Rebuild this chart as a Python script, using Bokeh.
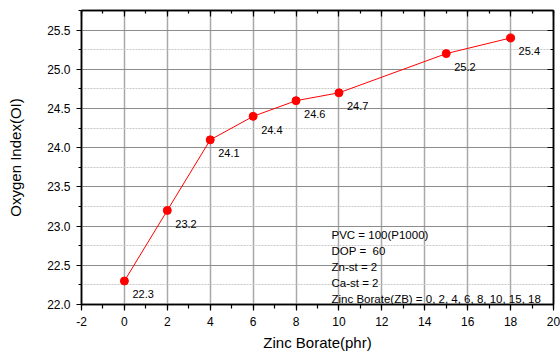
from bokeh.plotting import figure
from bokeh.models import (Range1d, LinearAxis, SingleIntervalTicker, NumeralTickFormatter,
                          CustomJSTickFormatter, ColumnDataSource, Label)
from bokeh.embed import file_html
from bokeh.resources import INLINE
from bokeh.core.properties import value

# ---- data ----
zinc_borate = [0, 2, 4, 6, 8, 10, 15, 18]
oxygen_index = [22.3, 23.2, 24.1, 24.4, 24.6, 24.7, 25.2, 25.4]
point_labels = ["22.3", "23.2", "24.1", "24.4", "24.6", "24.7", "25.2", "25.4"]
note_lines = ["PVC = 100(P1000)", "DOP = \u00a060", "Zn-st = 2", "Ca-st = 2",
              "Zinc Borate(ZB) = 0, 2, 4, 6, 8, 10, 15, 18"]
x_title = "Zinc Borate(phr)"
y_title = "Oxygen Index(OI)"

FONT = "Liberation Sans"

p = figure(width=560, height=356, output_backend="svg", toolbar_location=None,
           x_range=Range1d(-2, 20), y_range=Range1d(22, 25.75),
           min_border_left=81, min_border_right=7, min_border_top=10, min_border_bottom=52,
           background_fill_color="white", border_fill_color="white")
p.outline_line_color = "black"
p.outline_line_width = 1.5

xt = SingleIntervalTicker(interval=2, num_minor_ticks=2)
yt = SingleIntervalTicker(interval=0.5, num_minor_ticks=2)

xa = p.xaxis[0]
ya = p.yaxis[0]
xa.ticker = xt
ya.ticker = yt
xa.formatter = CustomJSTickFormatter(code="return String(tick)")
ya.formatter = NumeralTickFormatter(format="0.0")
for ax in (xa, ya):
    ax.axis_line_color = "black"
    ax.axis_line_width = 1.5
    ax.major_tick_line_color = "black"
    ax.minor_tick_line_color = "black"
    ax.major_tick_line_width = 1.2
    ax.minor_tick_line_width = 1.2
    ax.major_tick_in = 0
    ax.minor_tick_in = 0
    ax.major_label_text_font = FONT
    ax.major_label_text_font_size = "12px"
    ax.major_label_text_color = "black"
    ax.axis_label_text_font = FONT
    ax.axis_label_text_font_style = "normal"
    ax.axis_label_text_font_size = "15px"
    ax.axis_label_text_color = "black"
xa.major_tick_out = 6
xa.minor_tick_out = 4
ya.major_tick_out = 5
ya.minor_tick_out = 3
xa.major_label_standoff = 6
ya.major_label_standoff = 6
xa.axis_label = x_title
ya.axis_label = y_title
xa.axis_label_standoff = 5
ya.axis_label_standoff = 20

blank = CustomJSTickFormatter(code="return ''")
top = LinearAxis(ticker=xt, formatter=blank)
right = LinearAxis(ticker=yt, formatter=blank)
for ax in (top, right):
    ax.major_label_text_font_size = "0px"
    ax.major_label_standoff = 0
    ax.axis_line_color = "black"
    ax.axis_line_width = 1.5
    ax.major_tick_in = 6
    ax.major_tick_out = 0
    ax.minor_tick_in = 3
    ax.minor_tick_out = 0
    ax.major_tick_line_color = "black"
    ax.minor_tick_line_color = "black"
    ax.major_tick_line_width = 1.2
    ax.minor_tick_line_width = 1.2
p.add_layout(top, "above")
p.add_layout(right, "right")

p.xgrid.ticker = xt
p.ygrid.ticker = yt
p.xgrid.grid_line_color = "#a8a8a8"
p.xgrid.grid_line_width = 1.5
p.ygrid.grid_line_color = "#8c8c8c"
p.ygrid.grid_line_width = 1
p.ygrid.minor_grid_line_color = "#c8c8c8"
p.ygrid.minor_grid_line_dash = "2 1"
p.ygrid.minor_grid_line_width = 1

src = ColumnDataSource(dict(x=zinc_borate, y=oxygen_index, lab=point_labels))
p.line("x", "y", source=src, line_color="#ff0000", line_width=1)
p.scatter("x", "y", source=src, size=8, fill_color="#ff0000", line_color="#ff0000")
p.text("x", "y", text="lab", source=src, x_offset=8, y_offset=13.5,
       text_font=value(FONT), text_font_size="11px", text_color="black",
       text_baseline="alphabetic", text_align="left")

for i, line in enumerate(note_lines):
    p.add_layout(Label(x=250, y=70 - 16 * i, x_units="screen", y_units="screen",
                       text=line, text_font=FONT, text_font_size="11.5px",
                       text_color="black", text_baseline="alphabetic"))

open("out.html", "w").write(file_html(p, INLINE))
